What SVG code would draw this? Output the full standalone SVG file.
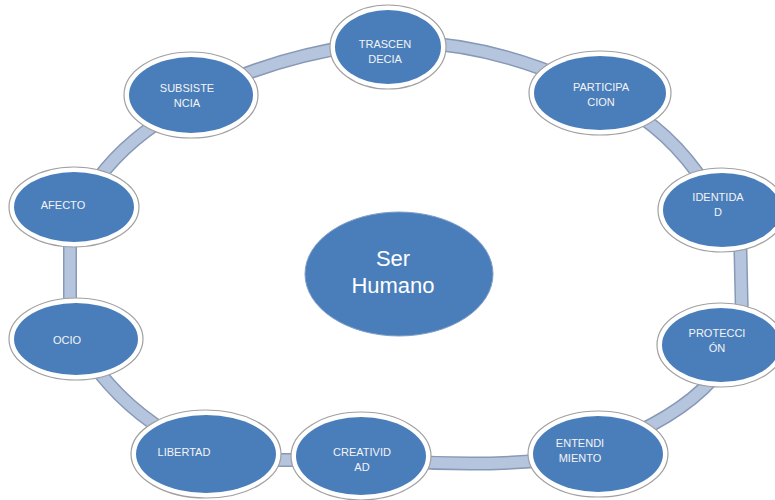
<svg xmlns="http://www.w3.org/2000/svg" width="775" height="500" viewBox="0 0 775 500">
<style>
.ring{fill:#ffffff;stroke:#a0a0a0;stroke-width:1.2}
.in{fill:#4a7ebb}
.t{font-family:"Liberation Sans",Arial,sans-serif;font-size:11px;fill:#f4f4f4;text-anchor:middle}
.tc{font-family:"Liberation Sans",Arial,sans-serif;font-size:22px;fill:#ffffff;text-anchor:middle}
.bo{fill:none;stroke:#8799b6;stroke-width:14}
.bi{fill:none;stroke:#b6c5de;stroke-width:11}
</style>
<defs>
<path id="links" d="M230,80 Q290,55 360,45 M410,42 Q490,45 570,80 M630,110 Q680,140 715,200 M740,230 L742,320 M720,370 Q690,410 620,440 M570,458 Q480,468 390,460 M340,460 L240,460 M180,440 Q125,410 90,360 M70,320 L70,220 M90,190 Q120,145 170,115"/>
</defs>
<rect width="775" height="500" fill="#ffffff"/>
<g id="connectors">
<use href="#links" class="bo"/>
<use href="#links" class="bi"/>
</g>
<g id="trascendecia"><ellipse class="ring" cx="388" cy="47" rx="58" ry="42"/><ellipse class="in" cx="388" cy="47" rx="53" ry="37"/><text class="t" x="385" y="48">TRASCEN</text><text class="t" x="385" y="63">DECIA</text></g>
<g id="participacion"><ellipse class="ring" cx="600" cy="93" rx="71" ry="42"/><ellipse class="in" cx="600" cy="93" rx="66" ry="37"/><text class="t" x="601" y="91">PARTICIPA</text><text class="t" x="601" y="106">CION</text></g>
<g id="subsistencia"><ellipse class="ring" cx="191" cy="95" rx="67" ry="43"/><ellipse class="in" cx="191" cy="95" rx="62" ry="38"/><text class="t" x="187" y="92">SUBSISTE</text><text class="t" x="187" y="107">NCIA</text></g>
<g id="afecto"><ellipse class="ring" cx="74" cy="207" rx="65" ry="40"/><ellipse class="in" cx="74" cy="207" rx="60" ry="35"/><text class="t" x="63" y="209">AFECTO</text></g>
<g id="identidad"><ellipse class="ring" cx="722" cy="210" rx="64" ry="42"/><ellipse class="in" cx="722" cy="210" rx="59" ry="37"/><text class="t" x="718" y="201">IDENTIDA</text><text class="t" x="718" y="216">D</text></g>
<g id="ocio"><ellipse class="ring" cx="76" cy="339" rx="67" ry="41"/><ellipse class="in" cx="76" cy="339" rx="62" ry="36"/><text class="t" x="67" y="344">OCIO</text></g>
<g id="proteccion"><ellipse class="ring" cx="721" cy="345" rx="64" ry="42"/><ellipse class="in" cx="721" cy="345" rx="59" ry="37"/><text class="t" x="717" y="337">PROTECCI</text><text class="t" x="717" y="352">ÓN</text></g>
<g id="libertad"><ellipse class="ring" cx="206" cy="454" rx="75" ry="44"/><ellipse class="in" cx="206" cy="454" rx="70" ry="39"/><text class="t" x="184" y="456">LIBERTAD</text></g>
<g id="creatividad"><ellipse class="ring" cx="361" cy="456" rx="70" ry="44"/><ellipse class="in" cx="361" cy="456" rx="65" ry="39"/><text class="t" x="362" y="456">CREATIVID</text><text class="t" x="362" y="471">AD</text></g>
<g id="entendimiento"><ellipse class="ring" cx="598" cy="454" rx="70" ry="43"/><ellipse class="in" cx="598" cy="454" rx="65" ry="38"/><text class="t" x="580" y="447">ENTENDI</text><text class="t" x="580" y="462">MIENTO</text></g>
<g id="ser-humano"><ellipse class="in" cx="399" cy="274" rx="94" ry="62" stroke="#7f9fc8" stroke-width="1"/><text class="tc" x="393" y="266">Ser</text><text class="tc" x="393" y="293">Humano</text></g>
</svg>
